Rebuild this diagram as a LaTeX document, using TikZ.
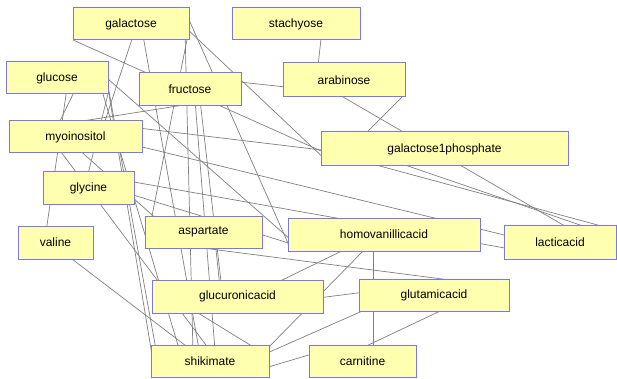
\documentclass[tikz,border=0pt]{standalone}
\usepackage{fontspec}
\setmainfont{Liberation Sans}
\usetikzlibrary{backgrounds}
\definecolor{boxfill}{RGB}{255,255,176}
\definecolor{boxdraw}{RGB}{120,120,230}
\definecolor{edgec}{RGB}{128,128,128}
\tikzset{
 mbox/.style={draw=boxdraw, fill=boxfill, line width=1pt, inner sep=0pt, font=\fontsize{12}{14}\selectfont, text=black},
 edge/.style={draw=edgec, line width=0.7pt}
}
\newcommand{\lnk}[4]{\draw[edge] ([shift={(#2)}]#1.center) -- ([shift={(#4)}]#3.center);}
\begin{document}
\begin{tikzpicture}[x=1pt,y=-1pt]
\useasboundingbox (0,0) rectangle (617,379);
\node[mbox, minimum width=116pt, minimum height=32pt] (galactose) at (131,24) {galactose};
\node[mbox, minimum width=128pt, minimum height=32pt] (stachyose) at (296,24) {stachyose};
\node[mbox, minimum width=102pt, minimum height=32pt] (glucose) at (57,78) {glucose};
\node[mbox, minimum width=102pt, minimum height=33pt] (fructose) at (190,89.5) {fructose};
\node[mbox, minimum width=122pt, minimum height=34pt] (arabinose) at (344,80) {arabinose};
\node[mbox, minimum width=133pt, minimum height=32pt] (myoinositol) at (75.5,137) {myoinositol};
\node[mbox, minimum width=247pt, minimum height=34pt] (galactosephos) at (444.5,149) {galactose1phosphate};
\node[mbox, minimum width=91pt, minimum height=32pt] (glycine) at (88.5,188) {glycine};
\node[mbox, minimum width=75pt, minimum height=33pt] (valine) at (55.5,242.5) {valine};
\node[mbox, minimum width=117pt, minimum height=32pt] (aspartate) at (203.5,232) {aspartate};
\node[mbox, minimum width=192pt, minimum height=33pt] (hva) at (384,234.5) {homovanillicacid};
\node[mbox, minimum width=112pt, minimum height=34pt] (lacticacid) at (560,242) {lacticacid};
\node[mbox, minimum width=171pt, minimum height=33pt] (glucuronic) at (237.5,296.5) {glucuronicacid};
\node[mbox, minimum width=150pt, minimum height=32pt] (glutamic) at (434,295) {glutamicacid};
\node[mbox, minimum width=118pt, minimum height=32pt] (shikimate) at (210,361) {shikimate};
\node[mbox, minimum width=107pt, minimum height=32pt] (carnitine) at (362.5,361) {carnitine};
\begin{pgfonlayer}{background}
\fill[white] (0,0) rectangle (617,379);
\lnk{stachyose}{26,6}{arabinose}{-27,-5}
\lnk{fructose}{40,-8.5}{arabinose}{-49,8}
\lnk{arabinose}{-9,12.3}{lacticacid}{10,-13}
\lnk{arabinose}{61,14}{galactosephos}{-82.5,-12}
\lnk{galactose}{-58,16}{galactosephos}{-114.5,6}
\lnk{myoinositol}{54.5,-10}{galactosephos}{-114.5,2}
\lnk{galactose}{54,3}{galactosephos}{-114.5,15}
\lnk{galactose}{54.6,-12}{hva}{-93,15.5}
\lnk{galactosephos}{-114.5,3.5}{lacticacid}{45,-15}
\lnk{galactosephos}{-74.5,4}{lacticacid}{25,-15.3}
\lnk{myoinositol}{54.5,7}{lacticacid}{-45,-4.4}
\lnk{glycine}{41.5,-6.7}{lacticacid}{-45,7.8}
\lnk{glucose}{43,-6}{hva}{-89,9}
\lnk{myoinositol}{-5.5,-14}{fructose}{0,14.5}
\lnk{glycine}{41.5,6}{hva}{-89,10.5}
\lnk{hva}{-34,12.5}{glucuronic}{37.5,-13}
\lnk{hva}{-17,12.5}{shikimate}{55,-10}
\lnk{hva}{-11,10.5}{carnitine}{10.5,-9}
\lnk{aspartate}{-8.5,15}{glutamic}{16,-15}
\lnk{glucuronic}{80.5,1.5}{glutamic}{-69,-3}
\lnk{glutamic}{-64,12.6}{shikimate}{55,-7}
\lnk{glutamic}{14,12.3}{carnitine}{-0.5,-13}
\lnk{carnitine}{-50.5,-7}{shikimate}{55,7}
\lnk{valine}{12.5,13.5}{shikimate}{-20,-12}
\lnk{glucose}{10,10}{valine}{-9.5,-10.5}
\lnk{glucose}{19,10}{myoinositol}{-17.5,-12}
\lnk{glucose}{51,16}{glycine}{-1.5,-10}
\lnk{myoinositol}{-20.5,7}{shikimate}{2,-8}
\lnk{myoinositol}{0.5,10}{aspartate}{-43.5,-10}
\lnk{glucose}{48,-8}{shikimate}{-58,-6}
\lnk{glucose}{49,-3}{shikimate}{-53,-6}
\lnk{glucose}{43,6}{shikimate}{-30,-9}
\lnk{galactose}{4,6}{myoinositol}{27.5,-10}
\lnk{galactose}{11,6}{shikimate}{-10,-6}
\lnk{galactose}{57.5,8}{aspartate}{-53.5,-6}
\lnk{galactose}{54,6}{shikimate}{-17,-9}
\lnk{fructose}{5,10.5}{shikimate}{5,-11}
\lnk{fructose}{10,10.5}{glucuronic}{-15.5,-6.5}
\lnk{glucuronic}{-52.5,8.5}{shikimate}{45,-13}
\lnk{aspartate}{11.5,8}{glucuronic}{-17.5,-8.5}
\end{pgfonlayer}
\end{tikzpicture}
\end{document}
